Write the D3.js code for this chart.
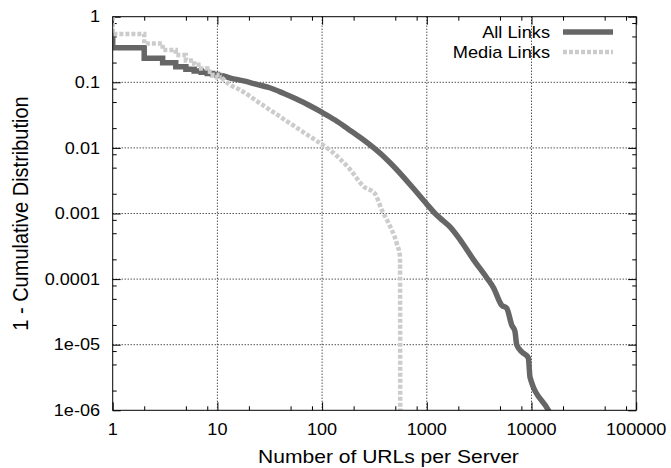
<!DOCTYPE html>
<html>
<head>
<meta charset="utf-8">
<script src="https://cdn.jsdelivr.net/npm/d3@7"></script>
<style>
  body { margin: 0; background: #fff; }
  text { font-family: "Liberation Sans", Arial, Helvetica, sans-serif; fill: #000; }
</style>
</head>
<body>
<svg id="chart" width="671" height="468"></svg>
<script>
// Complementary CDF of URLs per server.
// Small counts (1..10) are stepped; larger counts are dense enough to draw as a smooth line.
const allStepX = [1, 2, 3, 4, 5, 6, 7, 8, 9, 10];
const allStepY = [0.335, 0.233, 0.198, 0.172, 0.158, 0.149, 0.142, 0.136, 0.131, 0.127];
const allTop = 0.58;
const allTailX = [11, 13.3, 17.8, 23.7, 31.6, 42.2, 56.2, 75, 100, 133, 178, 237, 316, 422, 562, 750, 1000, 1200, 1340, 1675, 2075, 2780, 3735, 4315, 5190, 5800, 6470, 6950, 7220, 8060, 9330, 9680, 14500, 17000];
const allTailY = [0.127, 0.116, 0.105, 0.093, 0.0826, 0.0687, 0.056, 0.0447, 0.0348, 0.0266, 0.0193, 0.014, 0.0098, 0.0065, 0.00403, 0.00238, 0.00139, 0.001, 0.00085, 0.00062, 0.0004, 0.0002, 0.000105, 0.000075, 0.00004, 0.000036, 0.00002, 0.000016, 0.00001, 0.0000078, 0.0000063, 0.0000032, 0.000001, 0.0000006];

const mediaStepX = [1, 2, 3, 4, 5, 6, 7, 8, 9, 10];
const mediaStepY = [0.545, 0.39, 0.31, 0.26, 0.215, 0.185, 0.162, 0.145, 0.13, 0.118];
const mediaTop = 1;
const mediaTailX = [11, 13, 16.4, 25.5, 39.6, 61.5, 95.5, 119, 148, 185, 248, 320, 371, 430, 516, 555, 558];
const mediaTailY = [0.118, 0.093, 0.077, 0.048, 0.030, 0.0188, 0.0118, 0.0093, 0.0068, 0.0047, 0.0026, 0.0020, 0.00114, 0.00072, 0.00035, 0.00022, 0.0000001];

const xTickValues = [1, 10, 100, 1000, 10000, 100000];
const xTickLabels = ["1", "10", "100", "1000", "10000", "100000"];
const yTickValues = [1, 0.1, 0.01, 0.001, 0.0001, 0.00001, 0.000001];
const yTickLabels = ["1", "0.1", "0.01", "0.001", "0.0001", "1e-05", "1e-06"];
const minorMultipliers = [2, 5, 8];
const seriesNames = ["All Links", "Media Links"];
const xTitle = "Number of URLs per Server";
const yTitle = "1 - Cumulative Distribution";

const plot = { left: 112.7, right: 636.2, top: 16.7, bottom: 410.3 };
const svg = d3.select("#chart");

const x = d3.scaleLog().domain([1, 100000]).range([plot.left, plot.right]);
const y = d3.scaleLog().domain([0.000001, 1]).range([plot.bottom, plot.top]);

// minor ticks within each decade
const xMinor = [];
for (let d = 1; d < 100000; d *= 10) minorMultipliers.forEach(m => xMinor.push(d * m));
const yMinor = [];
for (let d = 0.000001; d < 0.99; d *= 10) minorMultipliers.forEach(m => yMinor.push(d * m));

// dotted grid at interior decades
const grid = svg.append("g").attr("stroke", "#000").attr("stroke-width", 1)
  .attr("stroke-dasharray", "1,2").attr("fill", "none");
xTickValues.slice(1, -1).forEach(v => {
  grid.append("line").attr("x1", x(v)).attr("x2", x(v)).attr("y1", plot.top).attr("y2", plot.bottom);
});
yTickValues.slice(1, -1).forEach(v => {
  grid.append("line").attr("x1", plot.left).attr("x2", plot.right).attr("y1", y(v)).attr("y2", y(v));
});

// Axes on all four sides, ticks pointing inward
const mk = (axisFn, scale, values, size) => axisFn(scale).tickValues(values).tickSize(size).tickFormat("");
const axes = [
  [d3.axisTop, x, xTickValues, 8, `translate(0,${plot.bottom})`],
  [d3.axisTop, x, xMinor, 4, `translate(0,${plot.bottom})`],
  [d3.axisBottom, x, xTickValues, 8, `translate(0,${plot.top})`],
  [d3.axisBottom, x, xMinor, 4, `translate(0,${plot.top})`],
  [d3.axisRight, y, yTickValues, 8, `translate(${plot.left},0)`],
  [d3.axisRight, y, yMinor, 4, `translate(${plot.left},0)`],
  [d3.axisLeft, y, yTickValues, 8, `translate(${plot.right},0)`],
  [d3.axisLeft, y, yMinor, 4, `translate(${plot.right},0)`]
];
axes.forEach(([fn, sc, vals, size, tr]) => {
  const g = svg.append("g").attr("transform", tr).call(mk(fn, sc, vals, size));
  g.select(".domain").remove();
  g.selectAll(".tick line").attr("stroke", "#000").attr("stroke-width", 1);
});

// text is set slightly wide, as in the original figure
const wide = 1.13;

// tick labels
svg.append("g").selectAll("text").data(xTickValues).join("text")
  .attr("transform", d => `translate(${x(d)},435) scale(${wide},1)`)
  .attr("text-anchor", "middle").attr("font-size", 16).text((d, i) => xTickLabels[i]);
svg.append("g").selectAll("text").data(yTickValues).join("text")
  .attr("transform", d => `translate(100,${y(d)}) scale(${wide},1)`)
  .attr("dy", "0.36em").attr("text-anchor", "end")
  .attr("font-size", 16).text((d, i) => yTickLabels[i]);

// titles
svg.append("text")
  .attr("transform", `translate(${(plot.left + plot.right) / 2 + 14},463) scale(1.17,1)`)
  .attr("text-anchor", "middle").attr("font-size", 18).text(xTitle);
svg.append("text")
  .attr("transform", `translate(28,${(plot.top + plot.bottom) / 2}) scale(1.1,1) rotate(-90)`)
  .attr("text-anchor", "middle").attr("font-size", 20).text(yTitle);

// build step + tail point lists
function stepPoints(top, sx, sy) {
  const pts = [[sx[0], top]];
  sx.forEach((v, i) => {
    pts.push([v, sy[i]]);
    pts.push([i + 1 < sx.length ? sx[i + 1] : v + 1, sy[i]]);
  });
  return pts;
}
const tailPoints = (tx, ty) => tx.map((v, i) => [v, ty[i]]);

svg.append("defs").append("clipPath").attr("id", "plotClip").append("rect")
  .attr("x", plot.left).attr("y", plot.top - 3)
  .attr("width", plot.right - plot.left).attr("height", plot.bottom - plot.top + 3);

const stepLine = d3.line().x(d => x(d[0])).y(d => y(d[1]));
const smoothLine = d3.line().x(d => x(d[0])).y(d => y(d[1])).curve(d3.curveMonotoneX);
const styles = [
  { color: "#666666", width: 5.5, dash: null },
  { color: "#cccccc", width: 4.5, dash: "4,2" }
];
const series = [
  [stepPoints(allTop, allStepX, allStepY), tailPoints(allTailX, allTailY)],
  [stepPoints(mediaTop, mediaStepX, mediaStepY), tailPoints(mediaTailX, mediaTailY)]
];
const lines = svg.append("g").attr("clip-path", "url(#plotClip)");
series.forEach(([steps, tail], i) => {
  const g = lines.append("g").attr("fill", "none")
    .attr("stroke", styles[i].color).attr("stroke-width", styles[i].width)
    .attr("stroke-dasharray", styles[i].dash);
  g.append("path").datum(steps).attr("d", stepLine);
  g.append("path").datum(tail).attr("d", smoothLine);
});

// border
svg.append("rect").attr("x", plot.left).attr("y", plot.top)
  .attr("width", plot.right - plot.left).attr("height", plot.bottom - plot.top)
  .attr("fill", "none").attr("stroke", "#000").attr("stroke-width", 1);

// legend
const legend = svg.append("g");
seriesNames.forEach((name, i) => {
  const ly = 32 + i * 20;
  legend.append("text").attr("transform", `translate(550,${ly}) scale(1.14,1)`).attr("dy", "0.35em")
    .attr("text-anchor", "end").attr("font-size", 16).text(name);
  legend.append("line").attr("x1", 563).attr("x2", 613).attr("y1", ly).attr("y2", ly)
    .attr("stroke", styles[i].color).attr("stroke-width", styles[i].width)
    .attr("stroke-dasharray", styles[i].dash);
});
</script>
</body>
</html>
